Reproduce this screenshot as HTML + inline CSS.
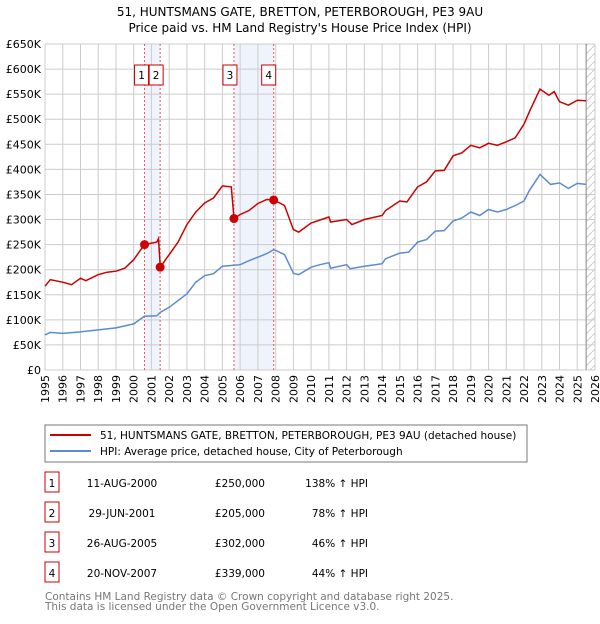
<!DOCTYPE html>
<html><head><meta charset="utf-8"><style>
body{margin:0;background:#fff;font-family:"DejaVu Sans","Liberation Sans",sans-serif;}
svg text{font-family:"DejaVu Sans","Liberation Sans",sans-serif;}
</style></head><body>
<svg id="c" width="600" height="620" xmlns="http://www.w3.org/2000/svg">
<text x="300" y="16" text-anchor="middle" font-size="12">51, HUNTSMANS GATE, BRETTON, PETERBOROUGH, PE3 9AU</text>
<text x="300" y="32" text-anchor="middle" font-size="12">Price paid vs. HM Land Registry's House Price Index (HPI)</text>
<g id="plot"></g>
<rect x="45" y="425" width="482" height="37" fill="#fff" stroke="#777"/>
<line x1="50" y1="435" x2="91" y2="435" stroke="#cc0000" stroke-width="2"/>
<text x="100" y="439" font-size="10.5">51, HUNTSMANS GATE, BRETTON, PETERBOROUGH, PE3 9AU (detached house)</text>
<line x1="50" y1="451" x2="91" y2="451" stroke="#5b8bd0" stroke-width="2"/>
<text x="100" y="455" font-size="10.5">HPI: Average price, detached house, City of Peterborough</text>
<g id="tbl" font-size="10.5"></g>
<text x="45" y="600" font-size="10.5" fill="#777">Contains HM Land Registry data © Crown copyright and database right 2025.</text>
<text x="45" y="610" font-size="10.5" fill="#777">This data is licensed under the Open Government Licence v3.0.</text>
</svg>
<script>
const hpiT=[1995,1995.3,1996,1997,1998,1999,2000,2000.6,2001.3,2001.5,2002,2003,2003.5,2004,2004.5,2005,2006,2006.5,2007,2007.5,2007.9,2008.5,2009,2009.3,2010,2010.5,2011,2011.1,2012,2012.2,2013,2014,2014.2,2015,2015.5,2016,2016.5,2017,2017.5,2018,2018.5,2019,2019.5,2020,2020.5,2021,2021.5,2022,2022.3,2022.9,2023.5,2024,2024.5,2025,2025.5];
const hpiV=[70,75,73,76,80,84,92,107,108,115,125,152,175,188,192,207,210,218,225,232,240,230,193,190,205,210,214,203,210,202,207,212,222,233,235,255,260,277,278,297,303,315,308,320,315,320,328,337,358,390,370,373,362,372,370];
const propT=[1995,1995.3,1996,1996.5,1997,1997.3,1998,1998.5,1999,1999.5,2000,2000.6,2001.3,2001.4,2001.5,2002,2002.5,2003,2003.5,2004,2004.5,2005,2005.5,2005.65,2006,2006.5,2007,2007.5,2007.9,2008.5,2009,2009.3,2010,2011,2011.1,2012,2012.3,2013,2014,2014.2,2015,2015.4,2016,2016.5,2017,2017.5,2018,2018.5,2019,2019.5,2020,2020.5,2021,2021.5,2022,2022.3,2022.9,2023.4,2023.7,2024,2024.5,2025,2025.5];
const propV=[167,180,175,170,183,178,190,195,197,203,220,250,255,262,205,230,255,290,315,333,343,367,365,302,310,318,332,340,339,328,280,275,293,305,295,300,290,300,308,318,337,335,365,375,397,398,427,433,448,443,452,448,455,463,490,515,560,548,555,535,528,538,537];
const saleT=[2000.61,2001.49,2005.65,2007.89];
const saleV=[250,205,302,339];
const saleLbl=["1","2","3","4"];
const saleDate=["11-AUG-2000","29-JUN-2001","26-AUG-2005","20-NOV-2007"];
const salePrice=["£250,000","£205,000","£302,000","£339,000"];
const saleHpi=["138% ↑ HPI","78% ↑ HPI","46% ↑ HPI","44% ↑ HPI"];
const yTicks=[0,50,100,150,200,250,300,350,400,450,500,550,600,650];
const yLabels=["£0","£50K","£100K","£150K","£200K","£250K","£300K","£350K","£400K","£450K","£500K","£550K","£600K","£650K"];
const years=[];for(let y=1995;y<=2026;y++)years.push(y);
const X0=45,X1=595,Y0=370,Y1=44;
const sx=t=>X0+(t-1995)/31*(X1-X0);
const sy=v=>Y0-v/650*(Y0-Y1);
const NS="http://www.w3.org/2000/svg";
const plot=document.getElementById('plot');
function mk(tag,attrs,parent){const e=document.createElementNS(NS,tag);for(const k in attrs)e.setAttribute(k,attrs[k]);(parent||plot).appendChild(e);return e;}
let e=mk('rect',{x:sx(saleT[0]),y:Y1,width:sx(saleT[1])-sx(saleT[0]),height:Y0-Y1,fill:'#eef3fc'});


e=mk('rect',{x:sx(saleT[2]),y:Y1,width:sx(saleT[3])-sx(saleT[2]),height:Y0-Y1,fill:'#eef3fc'});


const hx=sx(2025.5);
e=mk('defs',{});e.innerHTML='<pattern id="h" width="8" height="8" patternUnits="userSpaceOnUse"><path d="M0,8 L8,0" stroke="#ccc" stroke-width="1"/></pattern>';
e=mk('rect',{x:hx,y:Y1,width:X1-hx,height:Y0-Y1,fill:'url(#h)'});


years.forEach(y=>{const g=mk('line',{x1:sx(y),x2:sx(y),y1:Y1,y2:Y0,stroke:'#ccc'});


const t=mk('text',{x:0,y:0,'font-size':11,'text-anchor':'end',transform:`translate(${sx(y)+4},${Y0+5}) rotate(-90)`});t.textContent=y;

});
yTicks.forEach((v,i)=>{const g=mk('line',{x1:X0,x2:X1,y1:sy(v),y2:sy(v),stroke:'#ccc'});


const t=mk('text',{x:X0-4,y:sy(v)+4,'font-size':11,'text-anchor':'end'});t.textContent=yLabels[i];

});
e=mk('line',{x1:hx,x2:hx,y1:Y1,y2:Y0,stroke:'#888'});


saleT.forEach((t,i)=>{const l=mk('line',{x1:sx(t),x2:sx(t),y1:Y1,y2:Y0,stroke:'#ee5555','stroke-dasharray':'2,2'});

});
const pts=(T,V)=>T.map((t,i)=>sx(t).toFixed(1)+','+sy(V[i]).toFixed(1)).join(' ');
e=mk('polyline',{points:pts(hpiT,hpiV),fill:'none',stroke:'#5b8bd0','stroke-width':1.5});


e=mk('polyline',{points:pts(propT,propV),fill:'none',stroke:'#cc0000','stroke-width':1.5});


const boxOff=[-10,-11,-11,-12];
saleT.forEach((t,i)=>{const c=mk('circle',{cx:sx(t),cy:sy(saleV[i]),r:4.5,fill:'#cc0000'});


const bx=sx(t)+boxOff[i];
const box=mk('rect',{x:bx,y:65,width:14,height:20,fill:'#fff',stroke:'#cc0000'});


const tx=mk('text',{x:bx+7,y:79,'font-size':10.5,'text-anchor':'middle'});tx.textContent=saleLbl[i];

});
const tbl=document.getElementById('tbl');
saleLbl.forEach((s,i)=>{const y=483+i*30;
const r=mk('rect',{x:45,y:y-11,width:14,height:20,fill:'#fff',stroke:'#cc0000'},tbl);


const cells=[[52,'middle',s],[122,'middle',saleDate[i]],[265,'end',salePrice[i]],[368,'end',saleHpi[i]]];
cells.forEach((c,j)=>{const t=mk('text',{x:c[0],y:y+4,'text-anchor':c[1]},tbl);t.textContent=c[2];

});});
</script>
</body></html>
